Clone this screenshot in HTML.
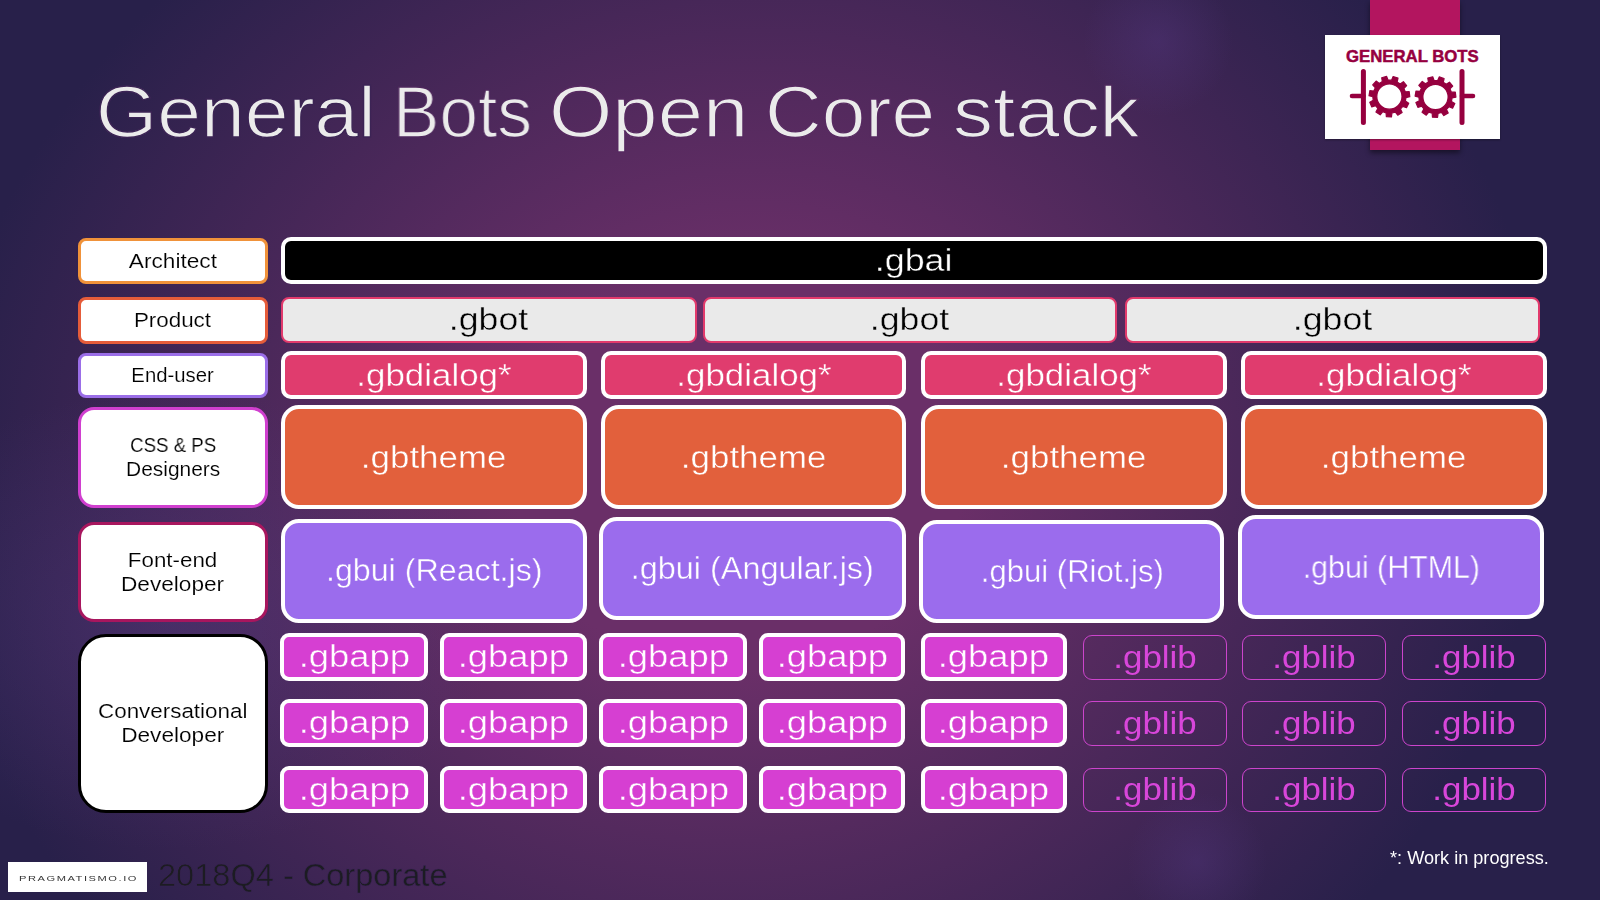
<!DOCTYPE html>
<html><head><meta charset="utf-8"><style>
html,body{margin:0;padding:0;width:1600px;height:900px;overflow:hidden}
body{position:relative;font-family:'Liberation Sans',sans-serif;background:#2a2150;-webkit-font-smoothing:antialiased}
.t{will-change:transform}
.bgw{position:absolute;left:0;top:0;width:1600px;height:900px;overflow:hidden;background:#28204a}
.bgr{position:absolute;left:-459px;top:-429px;width:2400px;height:1800px;transform-origin:1200px 900px;transform:rotate(-8.9deg);
background:radial-gradient(ellipse 797px 702px at 1200px 900px, #6a2f68 28.2%, #28204a 101.3%);}
.bg{position:absolute;left:0;top:0;width:1600px;height:900px;
background:
 radial-gradient(circle 75px at 1158px 41px, rgba(90,60,140,0.32), rgba(90,60,140,0) 100%),
 radial-gradient(circle 70px at 1197px 862px, rgba(90,60,140,0.30), rgba(90,60,140,0) 100%),
 radial-gradient(ellipse 330px 230px at 170px 620px, rgba(85,62,135,0.36), rgba(85,62,135,0) 100%);}
.b{position:absolute;box-sizing:border-box;display:flex;align-items:center;justify-content:center;text-align:center;white-space:nowrap;line-height:1}
.b span{display:inline-block;will-change:transform}
</style></head><body>
<div class="bgw"><div class="bgr"></div></div><div class="bg"></div>
<div class="t" style="position:absolute;left:96.13px;top:75.5px;font-size:72px;color:#ebebeb;white-space:nowrap;line-height:1;transform-origin:0 0;transform:scaleX(1.0923);-webkit-text-stroke:1.3px #3c2455;">General</div>
<div class="t" style="position:absolute;left:393.00px;top:75.5px;font-size:72px;color:#ebebeb;white-space:nowrap;line-height:1;transform-origin:0 0;transform:scaleX(0.9659);-webkit-text-stroke:1.3px #4e285d;">Bots</div>
<div class="t" style="position:absolute;left:548.91px;top:75.5px;font-size:72px;color:#ebebeb;white-space:nowrap;line-height:1;transform-origin:0 0;transform:scaleX(1.1310);-webkit-text-stroke:1.3px #572a61;">Open</div>
<div class="t" style="position:absolute;left:764.94px;top:75.5px;font-size:72px;color:#ebebeb;white-space:nowrap;line-height:1;transform-origin:0 0;transform:scaleX(1.0893);-webkit-text-stroke:1.3px #572a61;">Core</div>
<div class="t" style="position:absolute;left:952.68px;top:75.5px;font-size:72px;color:#ebebeb;white-space:nowrap;line-height:1;transform-origin:0 0;transform:scaleX(1.1102);-webkit-text-stroke:1.3px #4c285c;">stack</div>


<div style="position:absolute;left:1370px;top:0;width:90px;height:150px;background:#b3155f;box-shadow:0 3px 5px rgba(0,0,0,0.45)"></div>
<div style="position:absolute;left:1325px;top:35px;width:175px;height:104px;background:#fff;box-shadow:0 1px 2px rgba(0,0,0,0.35)"></div>
<div style="position:absolute;left:1325px;top:47.5px;width:175px;text-align:center;font-family:'Liberation Sans';font-weight:bold;font-size:17px;line-height:17px;color:#96003f;-webkit-text-stroke:0.5px #96003f;white-space:nowrap"><span style="display:inline-block;transform:scaleX(0.985)">GENERAL BOTS</span></div>
<svg style="position:absolute;left:1325px;top:35px" width="175" height="104" viewBox="0 0 175 104">
<g fill="#96003f" fill-rule="evenodd" stroke="#96003f" stroke-width="1.2" stroke-linejoin="round"><path d="M57.35,46.57 L56.69,42.71 L61.63,41.39 L63.00,45.06 L66.59,45.15 L68.13,41.54 L73.00,43.10 L72.16,46.93 L75.14,48.94 L78.38,46.74 L81.63,50.69 L78.86,53.45 L80.28,56.76 L84.19,56.66 L84.80,61.74 L80.97,62.56 L80.38,66.11 L83.72,68.14 L81.49,72.74 L77.82,71.37 L75.40,74.03 L77.12,77.55 L72.75,80.21 L70.41,77.07 L66.93,78.01 L66.47,81.89 L61.36,81.77 L61.09,77.87 L57.66,76.77 L55.17,79.79 L50.94,76.93 L52.82,73.49 L50.53,70.72 L46.80,71.92 L44.79,67.22 L48.23,65.34 L47.80,61.77 L44.02,60.77 L44.87,55.72 L48.77,56.01 L50.34,52.77 L47.70,49.88 L51.14,46.09 L54.28,48.44Z M77.00,61.60 A12.6,12.6 0 1,0 51.80,61.60 A12.6,12.6 0 1,0 77.00,61.60Z"/><path d="M103.45,46.97 L102.79,43.11 L107.73,41.79 L109.10,45.46 L112.69,45.55 L114.23,41.94 L119.10,43.50 L118.26,47.33 L121.24,49.34 L124.48,47.14 L127.73,51.09 L124.96,53.85 L126.38,57.16 L130.29,57.06 L130.90,62.14 L127.07,62.96 L126.48,66.51 L129.82,68.54 L127.59,73.14 L123.92,71.77 L121.50,74.43 L123.22,77.95 L118.85,80.61 L116.51,77.47 L113.03,78.41 L112.57,82.29 L107.46,82.17 L107.19,78.27 L103.76,77.17 L101.27,80.19 L97.04,77.33 L98.92,73.89 L96.63,71.12 L92.90,72.32 L90.89,67.62 L94.33,65.74 L93.90,62.17 L90.12,61.17 L90.97,56.12 L94.87,56.41 L96.44,53.17 L93.80,50.28 L97.24,46.49 L100.38,48.84Z M123.10,62.00 A12.6,12.6 0 1,0 97.90,62.00 A12.6,12.6 0 1,0 123.10,62.00Z"/></g>
<g stroke="#96003f" stroke-width="5" stroke-linecap="round" fill="none"><path d="M38.4,36.5V87.5M137,36.5V87.5"/></g>
<g stroke="#96003f" stroke-width="4.6" stroke-linecap="round" fill="none"><path d="M27,61H38.4M137,61H148"/></g>
</svg>

<div class="b" style="left:78px;top:237.8px;width:189.5px;height:45.9px;border:3px solid #f0923a;background:#fff;border-radius:8px;line-height:24px;font-size:20px;color:#000;-webkit-text-stroke:0.14px #fff"><div><span style="display:block;transform:scaleX(1.133)">Architect</span></div></div>
<div class="b" style="left:78px;top:297px;width:189.5px;height:46.5px;border:3px solid #e55c3a;background:#fff;border-radius:8px;line-height:24px;font-size:20px;color:#000;-webkit-text-stroke:0.14px #fff"><div><span style="display:block;transform:scaleX(1.119)">Product</span></div></div>
<div class="b" style="left:78px;top:352.7px;width:189.5px;height:45.6px;border:3px solid #9b6ee8;background:#fff;border-radius:8px;line-height:24px;font-size:20px;color:#000;-webkit-text-stroke:0.14px #fff"><div><span style="display:block;transform:scaleX(1.016)">End-user</span></div></div>
<div class="b" style="left:78px;top:406.7px;width:189.5px;height:101.6px;border:3px solid #d03fcf;background:#fff;border-radius:16px;line-height:24px;font-size:20px;color:#000;-webkit-text-stroke:0.14px #fff"><div><span style="display:block;transform:scaleX(0.933)">CSS &amp; PS</span><span style="display:block;transform:scaleX(1.046)">Designers</span></div></div>
<div class="b" style="left:78px;top:521.7px;width:189.5px;height:100.0px;border:3px solid #a8165e;background:#fff;border-radius:16px;line-height:24px;font-size:20px;color:#000;-webkit-text-stroke:0.14px #fff"><div><span style="display:block;transform:scaleX(1.117)">Font-end</span><span style="display:block;transform:scaleX(1.131)">Developer</span></div></div>
<div class="b" style="left:78px;top:634px;width:189.5px;height:178.9px;border:3px solid #000000;background:#fff;border-radius:28px;line-height:24px;font-size:20px;color:#000;-webkit-text-stroke:0.14px #fff"><div><span style="display:block;transform:scaleX(1.12)">Conversational</span><span style="display:block;transform:scaleX(1.131)">Developer</span></div></div>
<div class="b" style="left:281.0px;top:236.7px;width:1265.6px;height:47.3px;border:4.3px solid #fff;background:#000;border-radius:10px;"><span style="font-size:31px;color:#fff;-webkit-text-stroke:0.4px #000;transform:scaleX(1.156)">.gbai</span></div>
<div class="b" style="left:281.0px;top:297.3px;width:415.7px;height:45.4px;border:2.3px solid #e23a6c;background:#eaeaea;border-radius:8px;"><span style="font-size:31px;color:#000;-webkit-text-stroke:0.4px #eaeaea;transform:scaleX(1.150)">.gbot</span></div>
<div class="b" style="left:703.0px;top:297.3px;width:413.8px;height:45.4px;border:2.3px solid #e23a6c;background:#eaeaea;border-radius:8px;"><span style="font-size:31px;color:#000;-webkit-text-stroke:0.4px #eaeaea;transform:scaleX(1.150)">.gbot</span></div>
<div class="b" style="left:1125.0px;top:297.3px;width:414.6px;height:45.4px;border:2.3px solid #e23a6c;background:#eaeaea;border-radius:8px;"><span style="font-size:31px;color:#000;-webkit-text-stroke:0.4px #eaeaea;transform:scaleX(1.150)">.gbot</span></div>
<div class="b" style="left:281.0px;top:351.0px;width:305.6px;height:48.0px;border:4px solid #fff;background:#e03c6e;border-radius:10px;"><span style="font-size:31px;color:#fff;-webkit-text-stroke:0.4px #e03c6e;transform:scaleX(1.127)">.gbdialog*</span></div>
<div class="b" style="left:601.4px;top:351.0px;width:304.6px;height:48.0px;border:4px solid #fff;background:#e03c6e;border-radius:10px;"><span style="font-size:31px;color:#fff;-webkit-text-stroke:0.4px #e03c6e;transform:scaleX(1.127)">.gbdialog*</span></div>
<div class="b" style="left:921.0px;top:351.0px;width:305.5px;height:48.0px;border:4px solid #fff;background:#e03c6e;border-radius:10px;"><span style="font-size:31px;color:#fff;-webkit-text-stroke:0.4px #e03c6e;transform:scaleX(1.127)">.gbdialog*</span></div>
<div class="b" style="left:1241.0px;top:351.0px;width:305.8px;height:48.0px;border:4px solid #fff;background:#e03c6e;border-radius:10px;"><span style="font-size:31px;color:#fff;-webkit-text-stroke:0.4px #e03c6e;transform:scaleX(1.127)">.gbdialog*</span></div>
<div class="b" style="left:281.0px;top:405.0px;width:305.6px;height:104.0px;border:4px solid #fff;background:#e2603c;border-radius:18px;"><span style="font-size:31px;color:#fff;-webkit-text-stroke:0.4px #e2603c;transform:scaleX(1.126)">.gbtheme</span></div>
<div class="b" style="left:601.4px;top:405.0px;width:304.6px;height:104.0px;border:4px solid #fff;background:#e2603c;border-radius:18px;"><span style="font-size:31px;color:#fff;-webkit-text-stroke:0.4px #e2603c;transform:scaleX(1.126)">.gbtheme</span></div>
<div class="b" style="left:921.0px;top:405.0px;width:305.5px;height:104.0px;border:4px solid #fff;background:#e2603c;border-radius:18px;"><span style="font-size:31px;color:#fff;-webkit-text-stroke:0.4px #e2603c;transform:scaleX(1.126)">.gbtheme</span></div>
<div class="b" style="left:1241.0px;top:405.0px;width:305.8px;height:104.0px;border:4px solid #fff;background:#e2603c;border-radius:18px;"><span style="font-size:31px;color:#fff;-webkit-text-stroke:0.4px #e2603c;transform:scaleX(1.126)">.gbtheme</span></div>
<div class="b" style="left:281.0px;top:519.0px;width:306.0px;height:103.7px;border:4px solid #fff;background:#9b6ced;border-radius:18px;"><span style="font-size:31px;color:#fff;-webkit-text-stroke:0.4px #9b6ced;transform:scaleX(1.039)">.gbui (React.js)</span></div>
<div class="b" style="left:599.3px;top:517.0px;width:306.3px;height:103.0px;border:4px solid #fff;background:#9b6ced;border-radius:18px;"><span style="font-size:31px;color:#fff;-webkit-text-stroke:0.4px #9b6ced;transform:scaleX(1.045)">.gbui (Angular.js)</span></div>
<div class="b" style="left:919.3px;top:519.5px;width:305.1px;height:103.2px;border:4px solid #fff;background:#9b6ced;border-radius:18px;"><span style="font-size:31px;color:#fff;-webkit-text-stroke:0.4px #9b6ced;transform:scaleX(1.002)">.gbui (Riot.js)</span></div>
<div class="b" style="left:1238.0px;top:515.0px;width:305.9px;height:104.0px;border:4px solid #fff;background:#9b6ced;border-radius:18px;"><span style="font-size:31px;color:#fff;-webkit-text-stroke:0.4px #9b6ced;transform:scaleX(0.980)">.gbui (HTML)</span></div>
<div class="b" style="left:280.0px;top:632.9px;width:148.2px;height:47.9px;border:4px solid #fff;background:#d63fd2;border-radius:9px;"><span style="font-size:31px;color:#fff;-webkit-text-stroke:0.4px #d63fd2;transform:scaleX(1.174)">.gbapp</span></div>
<div class="b" style="left:440.0px;top:632.9px;width:146.7px;height:47.9px;border:4px solid #fff;background:#d63fd2;border-radius:9px;"><span style="font-size:31px;color:#fff;-webkit-text-stroke:0.4px #d63fd2;transform:scaleX(1.174)">.gbapp</span></div>
<div class="b" style="left:599.3px;top:632.9px;width:147.6px;height:47.9px;border:4px solid #fff;background:#d63fd2;border-radius:9px;"><span style="font-size:31px;color:#fff;-webkit-text-stroke:0.4px #d63fd2;transform:scaleX(1.174)">.gbapp</span></div>
<div class="b" style="left:759.2px;top:632.9px;width:146.3px;height:47.9px;border:4px solid #fff;background:#d63fd2;border-radius:9px;"><span style="font-size:31px;color:#fff;-webkit-text-stroke:0.4px #d63fd2;transform:scaleX(1.174)">.gbapp</span></div>
<div class="b" style="left:921.0px;top:632.9px;width:145.7px;height:47.9px;border:4px solid #fff;background:#d63fd2;border-radius:9px;"><span style="font-size:31px;color:#fff;-webkit-text-stroke:0.4px #d63fd2;transform:scaleX(1.174)">.gbapp</span></div>
<div class="b" style="left:280.0px;top:698.9px;width:148.2px;height:47.8px;border:4px solid #fff;background:#d63fd2;border-radius:9px;"><span style="font-size:31px;color:#fff;-webkit-text-stroke:0.4px #d63fd2;transform:scaleX(1.174)">.gbapp</span></div>
<div class="b" style="left:440.0px;top:698.9px;width:146.7px;height:47.8px;border:4px solid #fff;background:#d63fd2;border-radius:9px;"><span style="font-size:31px;color:#fff;-webkit-text-stroke:0.4px #d63fd2;transform:scaleX(1.174)">.gbapp</span></div>
<div class="b" style="left:599.3px;top:698.9px;width:147.6px;height:47.8px;border:4px solid #fff;background:#d63fd2;border-radius:9px;"><span style="font-size:31px;color:#fff;-webkit-text-stroke:0.4px #d63fd2;transform:scaleX(1.174)">.gbapp</span></div>
<div class="b" style="left:759.2px;top:698.9px;width:146.3px;height:47.8px;border:4px solid #fff;background:#d63fd2;border-radius:9px;"><span style="font-size:31px;color:#fff;-webkit-text-stroke:0.4px #d63fd2;transform:scaleX(1.174)">.gbapp</span></div>
<div class="b" style="left:921.0px;top:698.9px;width:145.7px;height:47.8px;border:4px solid #fff;background:#d63fd2;border-radius:9px;"><span style="font-size:31px;color:#fff;-webkit-text-stroke:0.4px #d63fd2;transform:scaleX(1.174)">.gbapp</span></div>
<div class="b" style="left:280.0px;top:766.2px;width:148.2px;height:46.7px;border:4px solid #fff;background:#d63fd2;border-radius:9px;"><span style="font-size:31px;color:#fff;-webkit-text-stroke:0.4px #d63fd2;transform:scaleX(1.174)">.gbapp</span></div>
<div class="b" style="left:440.0px;top:766.2px;width:146.7px;height:46.7px;border:4px solid #fff;background:#d63fd2;border-radius:9px;"><span style="font-size:31px;color:#fff;-webkit-text-stroke:0.4px #d63fd2;transform:scaleX(1.174)">.gbapp</span></div>
<div class="b" style="left:599.3px;top:766.2px;width:147.6px;height:46.7px;border:4px solid #fff;background:#d63fd2;border-radius:9px;"><span style="font-size:31px;color:#fff;-webkit-text-stroke:0.4px #d63fd2;transform:scaleX(1.174)">.gbapp</span></div>
<div class="b" style="left:759.2px;top:766.2px;width:146.3px;height:46.7px;border:4px solid #fff;background:#d63fd2;border-radius:9px;"><span style="font-size:31px;color:#fff;-webkit-text-stroke:0.4px #d63fd2;transform:scaleX(1.174)">.gbapp</span></div>
<div class="b" style="left:921.0px;top:766.2px;width:145.7px;height:46.7px;border:4px solid #fff;background:#d63fd2;border-radius:9px;"><span style="font-size:31px;color:#fff;-webkit-text-stroke:0.4px #d63fd2;transform:scaleX(1.174)">.gbapp</span></div>
<div class="b" style="left:1082.9px;top:635.0px;width:143.8px;height:45.0px;border:1.5px solid #cc44cc;background:transparent;border-radius:9px;"><span style="font-size:31px;color:#d846da;transform:scaleX(1.126)">.gblib</span></div>
<div class="b" style="left:1242.2px;top:635.0px;width:143.8px;height:45.0px;border:1.5px solid #cc44cc;background:transparent;border-radius:9px;"><span style="font-size:31px;color:#d846da;transform:scaleX(1.126)">.gblib</span></div>
<div class="b" style="left:1401.8px;top:635.0px;width:143.9px;height:45.0px;border:1.5px solid #cc44cc;background:transparent;border-radius:9px;"><span style="font-size:31px;color:#d846da;transform:scaleX(1.126)">.gblib</span></div>
<div class="b" style="left:1082.9px;top:701.0px;width:143.8px;height:44.6px;border:1.5px solid #cc44cc;background:transparent;border-radius:9px;"><span style="font-size:31px;color:#d846da;transform:scaleX(1.126)">.gblib</span></div>
<div class="b" style="left:1242.2px;top:701.0px;width:143.8px;height:44.6px;border:1.5px solid #cc44cc;background:transparent;border-radius:9px;"><span style="font-size:31px;color:#d846da;transform:scaleX(1.126)">.gblib</span></div>
<div class="b" style="left:1401.8px;top:701.0px;width:143.9px;height:44.6px;border:1.5px solid #cc44cc;background:transparent;border-radius:9px;"><span style="font-size:31px;color:#d846da;transform:scaleX(1.126)">.gblib</span></div>
<div class="b" style="left:1082.9px;top:767.8px;width:143.8px;height:43.8px;border:1.5px solid #cc44cc;background:transparent;border-radius:9px;"><span style="font-size:31px;color:#d846da;transform:scaleX(1.126)">.gblib</span></div>
<div class="b" style="left:1242.2px;top:767.8px;width:143.8px;height:43.8px;border:1.5px solid #cc44cc;background:transparent;border-radius:9px;"><span style="font-size:31px;color:#d846da;transform:scaleX(1.126)">.gblib</span></div>
<div class="b" style="left:1401.8px;top:767.8px;width:143.9px;height:43.8px;border:1.5px solid #cc44cc;background:transparent;border-radius:9px;"><span style="font-size:31px;color:#d846da;transform:scaleX(1.126)">.gblib</span></div>

<div style="position:absolute;left:8px;top:862px;width:139px;height:30px;background:#fff"></div>
<div class="t" style="position:absolute;left:18.5px;top:873.5px;font-size:7.5px;letter-spacing:1.05px;transform-origin:0 0;transform:scaleX(1.48);color:#333;white-space:nowrap">PRAGMATISMO.IO</div>
<div class="t" style="position:absolute;left:158px;top:860px;font-size:31px;color:#1c1c22;-webkit-text-stroke:0.5px #3a2456;white-space:nowrap;line-height:1;transform-origin:0 0;transform:scaleX(1.05)">2018Q4 - Corporate</div>
<div class="t" style="position:absolute;left:1390px;top:850px;font-size:17.5px;color:#fff;white-space:nowrap;line-height:1;transform-origin:0 0;transform:scaleX(1.036)">*: Work in progress.</div>
</body></html>
